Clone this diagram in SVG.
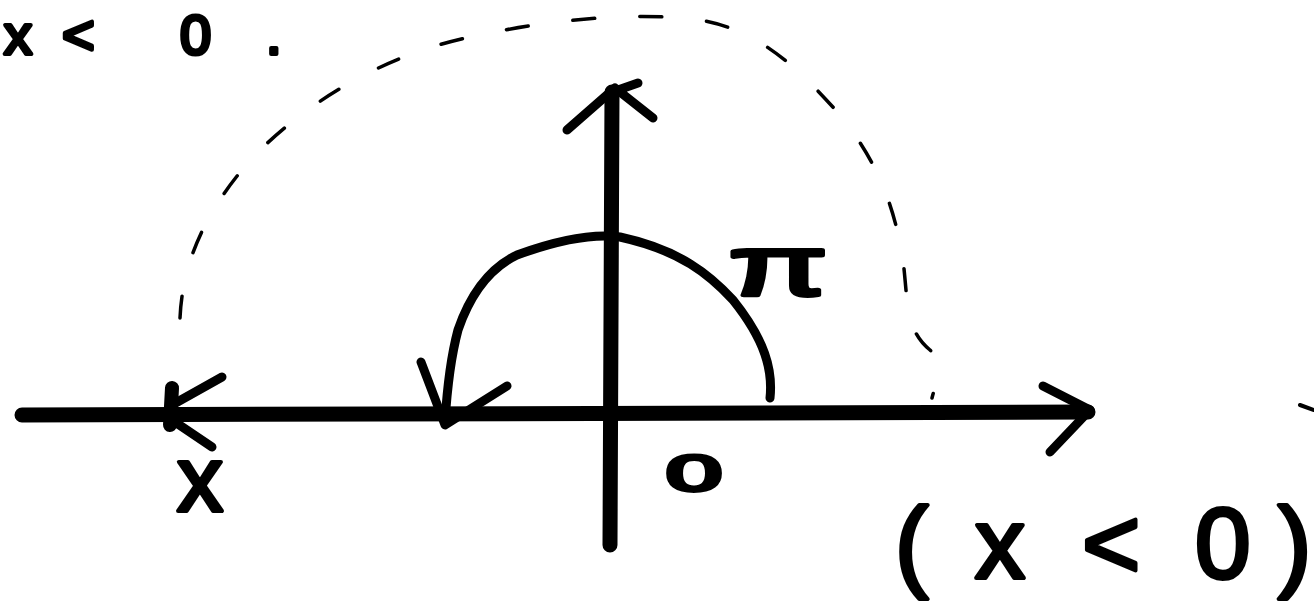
<svg xmlns="http://www.w3.org/2000/svg" width="1314" height="615" viewBox="0 0 1314 615">
<style>
.ink{fill:none;stroke:#000;stroke-linecap:round;stroke-linejoin:round}
.axis{stroke-width:15}
.arc{stroke-width:9}
.dash{stroke-width:3.5;stroke-dasharray:22 45}
.lbl{font-family:"Liberation Sans",Arial,sans-serif;fill:#000;stroke:#000;stroke-width:4;stroke-linejoin:round}
</style>
<rect width="1314" height="615" fill="#fff"/>
<g id="x-axis">
<path class="ink axis" d="M22 415 L1088 412"/>
<path class="ink arc" d="M1043 386 L1090 410 L1050 452"/>
<path class="ink arc" d="M222 377 L172 405 M172 420 L212 447"/>
<path class="ink" stroke-width="14" d="M172 388 L170 425"/>
</g>
<g id="y-axis">
<path class="ink axis" d="M610 545 L612 92"/>
<path class="ink arc" d="M567 130 L615 88 L653 118 M618 90 L638 83"/>
</g>
<g id="connectors">
<path class="ink arc" d="M770 398 C773 370 765 340 733 300 C710 275 680 250 620 237 C590 233 550 243 517 255 C490 268 470 295 458 330 C450 360 447 390 445 422"/>
<path class="ink arc" d="M421 362 L445 425 L507 386"/>
<path class="ink dash" d="M180 318 C182 270 200 215 255 155 C320 90 400 50 480 35 C560 18 640 12 700 20 C760 30 800 70 840 115 C880 165 895 210 903 260 C908 300 905 330 930 350 C945 365 935 385 932 398"/>
<path class="ink" stroke-width="4" d="M1300 405 L1314 410"/>
</g>
<g id="label-pi"><text class="lbl" x="0" y="0" font-size="85" stroke-width="2.5" text-anchor="middle" transform="translate(778 295) scale(1.7 1)">π</text></g>
<g id="label-origin"><text class="lbl" x="0" y="0" font-size="50" text-anchor="middle" stroke-width="3" transform="translate(694 491) scale(2 1)">0</text></g>
<g id="label-x"><text class="lbl" x="200" y="511" font-size="92" text-anchor="middle">x</text></g>
<g id="label-condition"><text class="lbl" x="895 975 1050 1082 1160 1195 1278" y="578" font-size="100">(x &lt; 0)</text></g>
<g id="label-top"><text class="lbl" x="4 32 62 120 180 266" y="54" font-size="56">x &lt; 0.</text></g>
</svg>
